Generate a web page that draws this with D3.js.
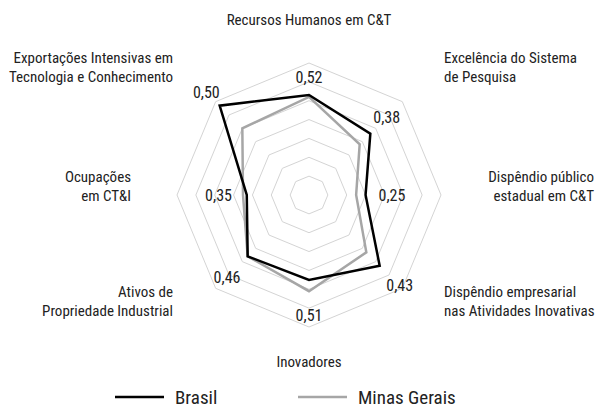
<!DOCTYPE html>
<html lang="pt">
<head>
<meta charset="utf-8">
<title>Radar</title>
<style>
  body { margin: 0; background: #fff; }
  svg text { font-family: "Roboto Condensed", Roboto, sans-serif; fill: #222; }
</style>
</head>
<body>
<svg width="599" height="409"></svg>
<script src="https://cdn.jsdelivr.net/npm/d3@7"></script>
<script>
// dados
var categories = [
  ["Recursos Humanos em C&T"],
  ["Excelência do Sistema", "de Pesquisa"],
  ["Dispêndio público", "estadual em C&T"],
  ["Dispêndio empresarial", "nas Atividades Inovativas"],
  ["Inovadores"],
  ["Ativos de", "Propriedade Industrial"],
  ["Ocupações", "em CT&I"],
  ["Exportações Intensivas em", "Tecnologia e Conhecimento"]
];
var brasil = [0.53, 0.46, 0.30, 0.53, 0.45, 0.46, 0.33, 0.67];
var minas  = [0.52, 0.38, 0.25, 0.43, 0.51, 0.46, 0.35, 0.50];
var valueLabels = ["0,52", "0,38", "0,25", "0,43", "0,51", "0,46", "0,35", "0,50"];
var ticks = [0.1, 0.2, 0.3, 0.4, 0.5, 0.6, 0.7];

// layout
var cx = 309, cy = 195, R = 132;
var labelR = [0.626, 0.583, 0.44, 0.68, 0.636, 0.615, 0.48, 0.77];
var catPos = [
  {x: 309, y: 20, a: "middle"},
  {x: 444, y: 58, a: "start"},
  {x: 594, y: 177, a: "end"},
  {x: 444, y: 292, a: "start"},
  {x: 309, y: 362, a: "middle"},
  {x: 173, y: 292, a: "end"},
  {x: 131, y: 177, a: "end"},
  {x: 173, y: 58, a: "end"}
];

var svg = d3.select("svg");
var g = svg.append("g").attr("transform", "translate(" + cx + "," + cy + ")");

var r = d3.scaleLinear().domain([0, 0.7]).range([0, R]);
var n = categories.length;
var angle = function(i) { return i * 2 * Math.PI / n; };

var radial = d3.lineRadial()
  .angle(function(d, i) { return angle(i); })
  .radius(function(d) { return r(d); })
  .curve(d3.curveLinearClosed);

// grade
g.selectAll(".ring")
  .data(ticks)
  .enter().append("path")
  .attr("class", "ring")
  .attr("d", function(t) { return radial(d3.range(n).map(function() { return t; })); })
  .attr("fill", "none")
  .attr("stroke", "#d4d4d4")
  .attr("stroke-width", 1);

// series
var series = [
  {values: minas, color: "#a6a6a6"},
  {values: brasil, color: "#000"}
];
g.selectAll(".serie")
  .data(series)
  .enter().append("path")
  .attr("class", "serie")
  .attr("d", function(s) { return radial(s.values); })
  .attr("fill", "none")
  .attr("stroke", function(s) { return s.color; })
  .attr("stroke-width", 2.5)
  .attr("stroke-linejoin", "miter");

// rotulos de valor
g.selectAll(".vlabel")
  .data(valueLabels)
  .enter().append("text")
  .attr("class", "vlabel")
  .attr("x", function(d, i) { return r(labelR[i]) * Math.sin(angle(i)); })
  .attr("y", function(d, i) { return -r(labelR[i]) * Math.cos(angle(i)); })
  .attr("dy", "0.36em")
  .attr("text-anchor", "middle")
  .style("font-size", "16px")
  .text(function(d) { return d; });

// rotulos das categorias
var cat = svg.selectAll(".cat")
  .data(categories)
  .enter().append("text")
  .attr("class", "cat")
  .attr("text-anchor", function(d, i) { return catPos[i].a; })
  .style("font-size", "15px");
cat.selectAll("tspan")
  .data(function(d, i) { return d.map(function(t) { return {t: t, p: catPos[i]}; }); })
  .enter().append("tspan")
  .attr("x", function(d) { return d.p.x; })
  .attr("y", function(d, j) { return d.p.y + j * 19; })
  .attr("dy", "0.36em")
  .text(function(d) { return d.t; });

// legenda
var legend = [
  {name: "Brasil", color: "#000", x: 115},
  {name: "Minas Gerais", color: "#a6a6a6", x: 298}
];
var lg = svg.selectAll(".leg")
  .data(legend)
  .enter().append("g")
  .attr("transform", function(d) { return "translate(" + d.x + ",397)"; });
lg.append("line")
  .attr("x1", 0).attr("x2", 49)
  .attr("stroke", function(d) { return d.color; })
  .attr("stroke-width", 2.5);
lg.append("text")
  .attr("x", 60)
  .attr("dy", "0.36em")
  .style("font-size", "19px")
  .text(function(d) { return d.name; });
</script>
</body>
</html>
